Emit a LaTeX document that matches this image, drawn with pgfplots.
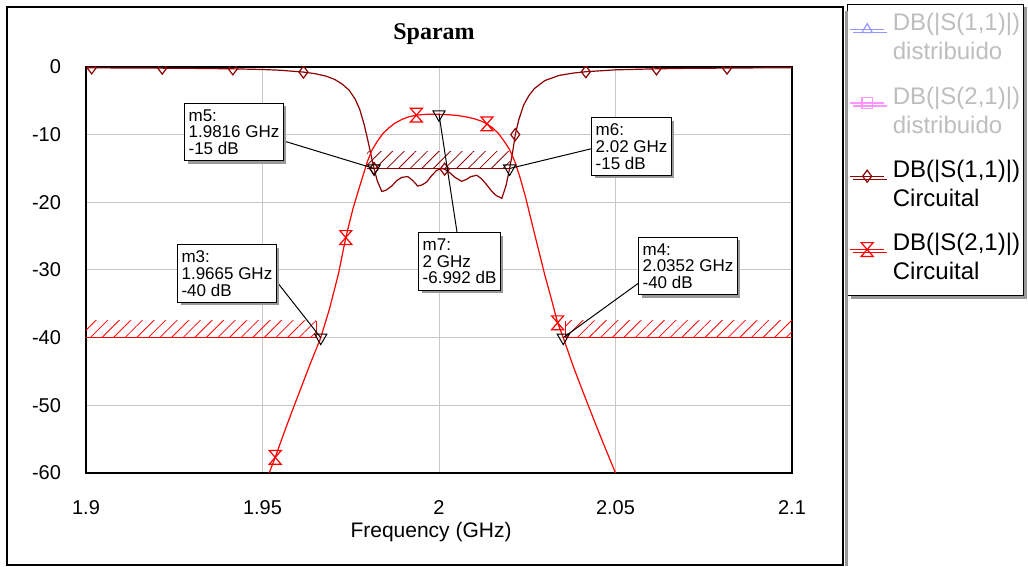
\documentclass[border=0pt]{standalone}
\usepackage{fontspec}
\setmainfont{Liberation Sans}
\newfontfamily\titlefont{Liberation Serif}
\usepackage{pgfplots}
\pgfplotsset{compat=1.18}
\usetikzlibrary{patterns.meta,shadows}

\definecolor{dred}{RGB}{139,0,0}
\definecolor{lblue}{RGB}{150,150,255}
\definecolor{lpink}{RGB}{255,150,255}
\definecolor{gtext}{RGB}{190,190,190}
\definecolor{gridc}{RGB}{200,200,200}

% open hourglass marker used for S21
\pgfdeclareplotmark{hourglass}{%
  \pgfpathmoveto{\pgfqpoint{-\pgfplotmarksize}{1.15\pgfplotmarksize}}%
  \pgfpathlineto{\pgfqpoint{\pgfplotmarksize}{1.15\pgfplotmarksize}}%
  \pgfpathlineto{\pgfqpoint{-\pgfplotmarksize}{-1.15\pgfplotmarksize}}%
  \pgfpathlineto{\pgfqpoint{\pgfplotmarksize}{-1.15\pgfplotmarksize}}%
  \pgfpathclose
  \pgfusepathqstroke}

\tikzset{mbox/.style={draw=black, fill=white, anchor=north west, align=left,
    inner xsep=2pt, inner ysep=3pt, line width=0.5pt,
    font=\fontsize{8.5}{8.4}\selectfont,
    drop shadow={shadow xshift=1.5pt, shadow yshift=-1.5pt, fill=gray!80, opacity=1}}}
\newcommand{\lentry}[2]{\begin{tabular}[b]{@{}l@{}}#1\\#2\end{tabular}}

\begin{document}
\begin{tikzpicture}
\path[use as bounding box] (-43pt,-47pt) rectangle (471pt,236.5pt);
\begin{axis}[
    at={(0,0)}, anchor=south west,
    width=353pt, height=203pt, scale only axis,
    xmin=1.9, xmax=2.1, ymin=-60, ymax=0,
    xtick={1.9,1.95,2,2.05,2.1},
    xticklabels={1.9,1.95,2,2.05,2.1},
    ytick={-60,-50,-40,-30,-20,-10,0},
    yticklabels={-60,-50,-40,-30,-20,-10,0},
    grid=major,
    grid style={color=gridc, line width=0.5pt},
    major tick length=0pt,
    axis line style={line width=0.6pt},
    /pgf/number format/assume math mode=true,
    tick label style={font=\fontsize{10}{12}\selectfont},
    xticklabel style={anchor=base, yshift=-20.5pt},
    yticklabel style={anchor=east, xshift=-9pt},
    title={Sparam},
    title style={font=\titlefont\bfseries\fontsize{12}{14}\selectfont,
        at={(axis description cs:0.493,1)}, anchor=base, yshift=7.5pt},
    xlabel={Frequency (GHz)},
    xlabel style={font=\fontsize{10.5}{12}\selectfont,
        at={(axis description cs:0.4887,-0.160)}, anchor=base},
    clip marker paths=true,
    legend cell align=left,
    legend image post style={yshift=3.5pt},
    legend style={at={(axis description cs:1.0779,1.1552)}, anchor=north west,
        draw=black, fill=white, line width=0.5pt,
        font=\fontsize{12}{14.5}\selectfont,
        inner xsep=1pt, inner ysep=2pt, row sep=8.5pt, column sep=3pt,
        nodes={inner sep=1pt},
        drop shadow={shadow xshift=1.5pt, shadow yshift=-1.5pt, fill=gray!80, opacity=1}},
]

% spec masks
\addplot[forget plot, draw=red, line width=0.5pt,
    pattern={Lines[angle=45, distance=4.1pt, line width=0.4pt]}, pattern color=red]
    coordinates {(1.9,-37.5) (1.9,-40) (1.9652,-40) (1.9652,-37.5)};
\addplot[forget plot, draw=red, line width=0.5pt,
    pattern={Lines[angle=45, distance=4.1pt, line width=0.4pt]}, pattern color=red]
    coordinates {(2.0357,-37.5) (2.0357,-40) (2.1,-40) (2.1,-37.5)};
\addplot[forget plot, draw=none,
    pattern={Lines[angle=45, distance=4.1pt, line width=0.4pt]}, pattern color=dred]
    coordinates {(1.9796,-12.5) (1.9796,-15) (2.0201,-15) (2.0201,-12.5)};
\addplot[forget plot, dred, line width=0.6pt] coordinates {(1.9796,-15) (2.0201,-15)};

% S11 circuital
\addplot[forget plot, dred, line width=0.6pt] coordinates {
(1.900,-0.12) (1.910,-0.14) (1.9216,-0.17) (1.930,-0.2) (1.9416,-0.27)
(1.950,-0.37) (1.955,-0.48) (1.9616,-0.75) (1.965,-1.0) (1.968,-1.35)
(1.9705,-1.85) (1.9725,-2.5) (1.9745,-3.4) (1.9762,-4.7) (1.9775,-6.2)
(1.9788,-8.5) (1.9800,-11.2) (1.9810,-13.6) (1.9816,-15.0) (1.9825,-16.8)
(1.9838,-18.4) (1.9850,-18.2) (1.9866,-17.6) (1.9880,-16.8) (1.9895,-16.3)
(1.9912,-16.2) (1.9926,-16.8) (1.9940,-17.6) (1.9953,-17.4) (1.9965,-17.0)
(1.9980,-16.0) (1.9993,-15.3) (2.0005,-15.0) (2.0016,-15.1) (2.0030,-15.6)
(2.0045,-16.3) (2.0064,-16.9) (2.0078,-16.6) (2.0090,-16.2) (2.0107,-16.0)
(2.0120,-16.5) (2.0135,-17.4) (2.0150,-18.4) (2.0162,-19.0) (2.0178,-19.4)
(2.0190,-17.5) (2.0200,-15.0) (2.0208,-12.8) (2.0216,-10.0) (2.0226,-7.8)
(2.0240,-5.6) (2.0255,-4.2) (2.0270,-3.2) (2.0300,-2.0) (2.0340,-1.25)
(2.0380,-0.9) (2.0416,-0.7) (2.0500,-0.42) (2.0616,-0.27) (2.0700,-0.2)
(2.0816,-0.16) (2.0900,-0.13) (2.1000,-0.11)};
\addplot[forget plot, only marks, dred, mark=diamond, mark size=3pt,
    mark options={line width=0.6pt, fill=none}] coordinates {
(1.9016,-0.12) (1.9216,-0.17) (1.9416,-0.27) (1.9616,-0.75) (1.9816,-15.0)
(2.0016,-15.1) (2.0216,-10.0) (2.0416,-0.7) (2.0616,-0.27) (2.0816,-0.16)};

% S21 circuital
\addplot[forget plot, red, line width=0.6pt] coordinates {
(1.9510,-61.2) (1.9536,-57.7) (1.9560,-54.2) (1.9585,-50.7) (1.9610,-47.3)
(1.9635,-43.9) (1.9665,-40.0) (1.9690,-35.7) (1.9715,-30.6) (1.9736,-25.2)
(1.9756,-21.0) (1.9772,-18.2) (1.9785,-16.0) (1.9797,-14.0) (1.9810,-12.3)
(1.9825,-11.0) (1.9840,-9.9) (1.9858,-9.0) (1.9875,-8.3) (1.9895,-7.75)
(1.9915,-7.35) (1.9936,-7.12) (1.9960,-7.0) (1.9980,-6.97) (2.0000,-6.992)
(2.0025,-7.05) (2.0050,-7.15) (2.0075,-7.35) (2.0100,-7.65) (2.0120,-8.0)
(2.0136,-8.4) (2.0152,-9.0) (2.0168,-9.8) (2.0185,-11.0) (2.0200,-12.2)
(2.0215,-14.0) (2.0230,-16.4) (2.0245,-19.2) (2.0260,-22.4) (2.0280,-26.6)
(2.0300,-30.8) (2.0320,-34.6) (2.0336,-37.8) (2.0352,-40.0) (2.0380,-44.2)
(2.0410,-48.3) (2.0440,-52.3) (2.0470,-56.2) (2.0500,-60.0) (2.0510,-61.3)};
\addplot[forget plot, only marks, red, mark=hourglass, mark size=3pt,
    mark options={line width=0.6pt}] coordinates {
(1.9536,-57.7) (1.9736,-25.2) (1.9936,-7.12) (2.0136,-8.4) (2.0336,-37.8)};

% marker points m3..m7
\addplot[forget plot, only marks, black, mark=triangle, mark size=3.5pt,
    mark options={rotate=180, line width=0.5pt, fill=none}] coordinates {
(1.9665,-40) (2.0352,-40) (1.9816,-15) (2.02,-15) (2.0,-6.992)};

% legend
\addlegendimage{lblue, line width=0.6pt, mark=triangle, mark size=3pt}
\addlegendentry{\lentry{\textcolor{gtext}{DB(|S(1,1)|)}}{\textcolor{gtext}{distribuido}}}
\addlegendimage{lpink, line width=0.6pt, mark=square, mark size=2.6pt}
\addlegendentry{\lentry{\textcolor{gtext}{DB(|S(2,1)|)}}{\textcolor{gtext}{distribuido}}}
\addlegendimage{dred, line width=0.6pt, mark=diamond, mark size=3pt}
\addlegendentry{\lentry{DB(|S(1,1)|)}{Circuital}}
\addlegendimage{red, line width=0.6pt, mark=hourglass, mark size=3pt, yshift=1.75pt}
\addlegendentry{\begin{tabular}[b]{@{}l@{}}DB(|S(2,1)|)\\Circuital\\[-11pt]\mbox{}\end{tabular}}

% marker leaders and labels
\draw[black, line width=0.5pt] (axis cs:1.9552,-10.8) -- (axis cs:1.9816,-15);
\draw[black, line width=0.5pt] (axis cs:2.0430,-12.1) -- (axis cs:2.02,-15);
\draw[black, line width=0.5pt] (axis cs:1.9540,-31.7) -- (axis cs:1.9665,-40);
\draw[black, line width=0.5pt] (axis cs:2.0569,-31.8) -- (axis cs:2.0352,-40);
\draw[black, line width=0.5pt] (axis cs:2.0051,-24.4) -- (axis cs:2.0,-6.992);
\node[mbox] at (axis cs:1.9278,-5.3) {m5:\\1.9816 GHz\\-15 dB};
\node[mbox] at (axis cs:2.0431,-7.4) {m6:\\2.02 GHz\\-15 dB};
\node[mbox] at (axis cs:1.9258,-26.2) {m3:\\1.9665 GHz\\-40 dB};
\node[mbox] at (axis cs:1.9941,-24.4) {m7:\\2 GHz\\-6.992 dB};
\node[mbox] at (axis cs:2.0564,-25.1) {m4:\\2.0352 GHz\\-40 dB};
\end{axis}
% outer frame
\draw[gray!80, line width=1.5pt] (380pt,231pt) -- (380pt,-46.5pt);
\draw[black, line width=0.6pt] (-39.5pt,-46pt) rectangle (378.5pt,233pt);
\end{tikzpicture}
\end{document}
